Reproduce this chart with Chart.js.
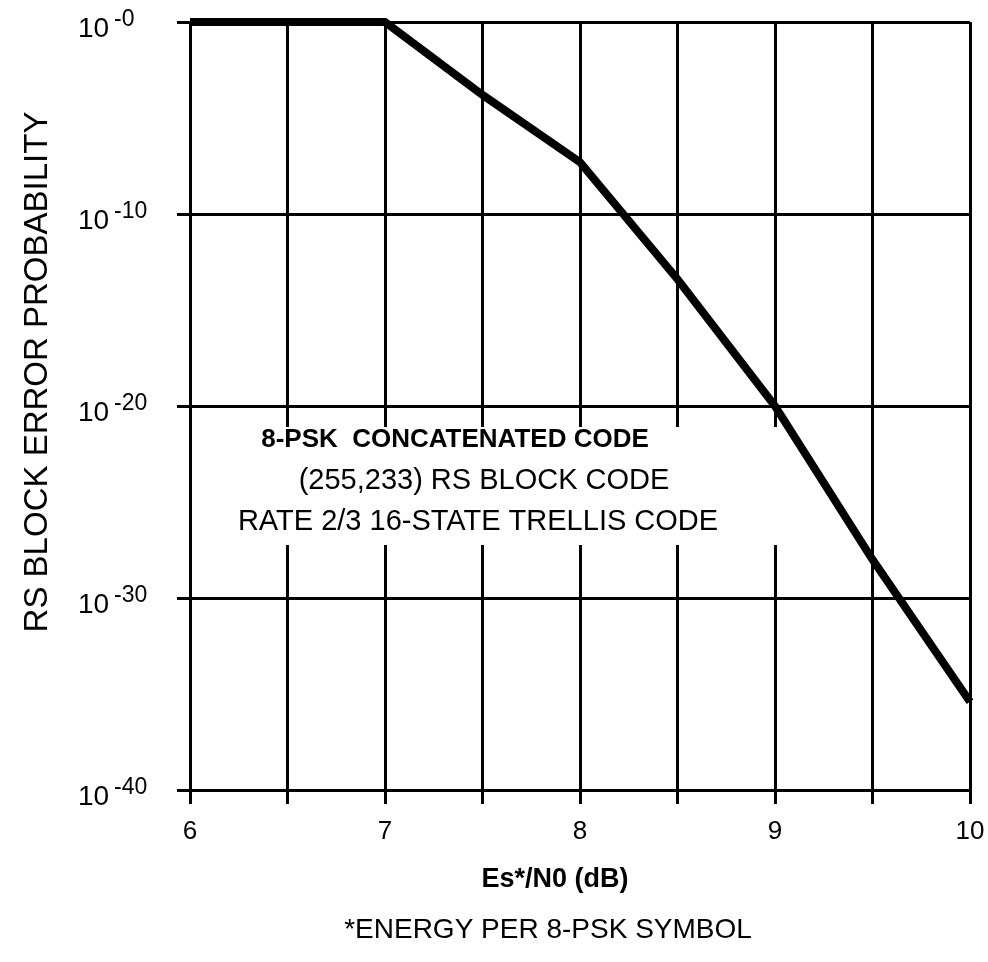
<!DOCTYPE html>
<html>
<head>
<meta charset="utf-8">
<script src="https://cdn.jsdelivr.net/npm/chart.js@4/dist/chart.umd.min.js"></script>
<style>
  html, body { margin: 0; padding: 0; background: #fff; }
  #wrap { width: 988px; height: 962px; }
</style>
</head>
<body>
<div id="wrap"><canvas id="c" width="988" height="962"></canvas></div>
<script>
// ---- data ----
const esn0 = [6, 7, 7.5, 8, 8.5, 9, 9.5, 10];                       // Es*/N0 (dB)
const blockErrorProb = [1, 1, 1.6e-4, 5e-8, 4e-14, 1e-20, 1e-28, 4e-36];
const yTickValues = [1, 1e-10, 1e-20, 1e-30, 1e-40];
const yTickExponents = ['-0', '-10', '-20', '-30', '-40'];
const xTickLabels = ['6', '7', '8', '9', '10'];
const xTitle = 'Es*/N0 (dB)';
const yTitle = 'RS BLOCK ERROR PROBABILITY';
const annotationLines = ['8-PSK  CONCATENATED CODE', '(255,233) RS BLOCK CODE', 'RATE 2/3 16-STATE TRELLIS CODE'];
const footnote = '*ENERGY PER 8-PSK SYMBOL';

const FONT = "'Liberation Sans', Arial, Helvetica, sans-serif";

const decorPlugin = {
  id: 'decor',
  beforeDatasetsDraw(chart) {
    const ctx = chart.ctx;
    const xs = chart.scales.x;
    ctx.save();
    // white break in the grid behind the annotation text
    const x0 = xs.getPixelForValue(6.3), x1 = xs.getPixelForValue(9.03);
    const y0 = 427, y1 = 545;
    ctx.fillStyle = '#fff';
    ctx.fillRect(x0, y0, x1 - x0, y1 - y0);
    // annotation text
    ctx.fillStyle = '#000';
    ctx.textAlign = 'center';
    ctx.textBaseline = 'middle';
    ctx.font = 'bold 26px ' + FONT;
    ctx.fillText(annotationLines[0], 455, 440);
    ctx.font = '29px ' + FONT;
    ctx.fillText(annotationLines[1], 484, 481);
    ctx.fillText(annotationLines[2], 478, 522);
    ctx.restore();
  },
  afterDraw(chart) {
    const ctx = chart.ctx;
    const ys = chart.scales.y;
    ctx.save();
    ctx.fillStyle = '#000';
    // y tick labels with superscript exponents
    ctx.textAlign = 'left';
    ctx.textBaseline = 'alphabetic';
    yTickValues.forEach((v, i) => {
      const y = ys.getPixelForValue(v);
      ctx.font = '28px ' + FONT;
      ctx.fillText('10', 78, y + 15);
      ctx.font = '23px ' + FONT;
      ctx.fillText(yTickExponents[i], 114, y + 4);
    });
    // axis titles and footnote
    ctx.textAlign = 'center';
    ctx.textBaseline = 'middle';
    ctx.font = 'bold 27px ' + FONT;
    ctx.fillText(xTitle, 555, 880);
    ctx.font = '28px ' + FONT;
    ctx.fillText(footnote, 548, 930);
    ctx.save();
    ctx.translate(38, 372);
    ctx.rotate(-Math.PI / 2);
    ctx.font = '33px ' + FONT;
    ctx.fillText(yTitle, 0, 0);
    ctx.restore();
    ctx.restore();
  }
};

new Chart(document.getElementById('c'), {
  type: 'line',
  data: {
    datasets: [{
      data: esn0.map((x, i) => ({ x: x, y: blockErrorProb[i] })),
      borderColor: '#000',
      borderWidth: 8,
      pointRadius: 0,
      tension: 0,
      fill: false,
      clip: false,
      borderJoinStyle: 'miter'
    }]
  },
  options: {
    responsive: false,
    animation: false,
    layout: { padding: { top: 22, right: 18, bottom: 0, left: 0 } },
    plugins: { legend: { display: false }, tooltip: { enabled: false } },
    scales: {
      x: {
        type: 'linear',
        min: 6, max: 10,
        grid: { color: '#000', lineWidth: 3, tickLength: 14, drawTicks: true },
        border: { display: true, color: '#000', width: 3 },
        ticks: {
          stepSize: 0.5,
          autoSkip: false,
          maxRotation: 0,
          padding: 12,
          color: '#000',
          font: { family: FONT, size: 26 },
          callback: (v) => {
            const idx = xTickLabels.indexOf(String(v));
            return idx >= 0 ? xTickLabels[idx] : '';
          }
        },
        afterFit: (s) => { s.height = 172; s.paddingRight = 0; s.paddingLeft = 0; }
      },
      y: {
        type: 'logarithmic',
        min: 1e-40, max: 1,
        afterBuildTicks: (s) => { s.ticks = yTickValues.map(v => ({ value: v })); },
        grid: { color: '#000', lineWidth: 3, tickLength: 13, drawTicks: true },
        border: { display: true, color: '#000', width: 3 },
        ticks: { display: false },
        afterFit: (s) => { s.width = 190; s.paddingTop = 0; s.paddingBottom = 0; }
      }
    }
  },
  plugins: [decorPlugin]
});
</script>
</body>
</html>
